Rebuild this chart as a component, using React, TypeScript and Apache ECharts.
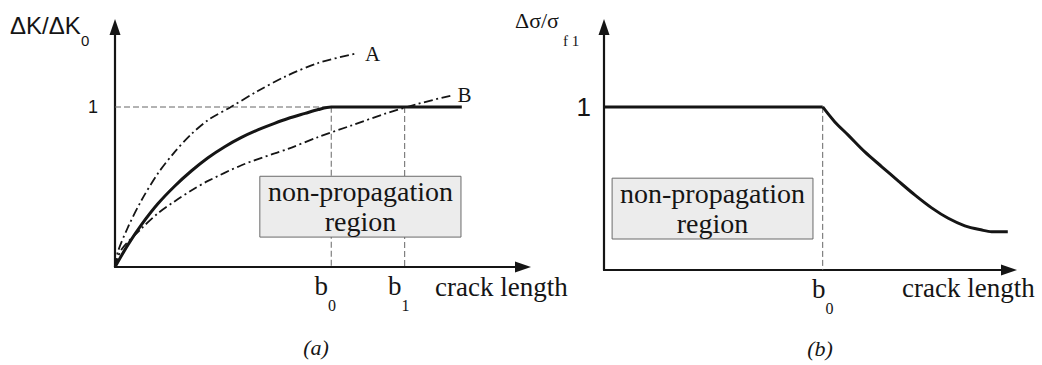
import React, { useEffect, useRef } from 'react';
import * as echarts from 'echarts';

// ---- axis ranges (arbitrary units) ----
const xMax = 100;
const yMaxA = 1.5;
const yMaxB = 1.49;

// ---- tick positions / labels ----
const b0A = 53;
const b1A = 71;
const b0B = 54;
const xTicksA = [b0A, b1A];
const xTickSubsA = ['0', '1'];
const xTicksB = [b0B];
const xTickSubsB = ['0'];
const yTicks = [1];
const yTickLabels = ['1'];

// ---- panel (a): ΔK/ΔK0 vs crack length ----
const solidA: [number, number][] = [
  [0, 0], [3.2, 0.14], [6.5, 0.265], [10.5, 0.395], [14.6, 0.505], [18.7, 0.6],
  [22.8, 0.683], [26.9, 0.752], [31, 0.81], [35, 0.857], [39.1, 0.898], [42.4, 0.928],
  [46.6, 0.96], [49.8, 0.984], [53, 1], [85, 1],
];
const curveA: [number, number][] = [
  [0, 0], [0.7, 0.095], [3.2, 0.25], [6.5, 0.417], [10.5, 0.584], [14.6, 0.718],
  [18.7, 0.83], [22.8, 0.918], [28.4, 1.0], [35, 1.1], [41.7, 1.19], [49.8, 1.275],
  [58.8, 1.333],
];
const curveB: [number, number][] = [
  [0, 0], [1.5, 0.106], [6.5, 0.241], [10.5, 0.335], [14.6, 0.41], [18.7, 0.478],
  [22.8, 0.538], [31, 0.636], [39.1, 0.71], [42.4, 0.738], [49.8, 0.812], [58, 0.885],
  [66.2, 0.958], [74.3, 1.02], [82.5, 1.072],
];
const guideA0: [number, number][] = [[0, 1], [b0A, 1], [b0A, 0]];
const guideA1: [number, number][] = [[b1A, 1], [b1A, 0]];
const regionA: [number, number][] = [[35.5, 0.567], [84.8, 0.187]];

// ---- panel (b): Δσ/σf1 vs crack length ----
const flatSigma: [number, number][] = [[0, 1], [b0B, 1]];
const curveSigma: [number, number][] = [
  [54, 1], [57, 0.908], [60.3, 0.827], [64.4, 0.724], [68.6, 0.633], [72.7, 0.545],
  [76.8, 0.459], [80.9, 0.381], [85, 0.317], [89.1, 0.271], [93.3, 0.245],
  [95.7, 0.235], [99.7, 0.235],
];
const guideB0: [number, number][] = [[b0B, 1], [b0B, 0]];
const regionB: [number, number][] = [[2, 0.563], [51.6, 0.19]];

const regionText = 'non-propagation\nregion';

const SERIF = 'Liberation Serif';
const SANS = 'Liberation Sans';
const INK = '#151515';

function subIndex(ticks: number[], v: number) {
  let best = 0;
  ticks.forEach((t, i) => {
    if (Math.abs(t - v) < Math.abs(ticks[best] - v)) best = i;
  });
  return best;
}

export default function App() {
  const ref = useRef<HTMLDivElement>(null);
  useEffect(() => {
    if (!ref.current) return;
    const chart = echarts.init(ref.current, undefined, { renderer: 'svg' });

    const axisLine = {
      show: true,
      symbol: ['none', 'triangle'],
      symbolSize: [11, 16],
      lineStyle: { color: INK, width: 2.2 },
    };
    const guideStyle = { color: '#666', width: 1, type: [6, 3] as number[] };
    const dashDot = [9, 3.5, 2, 3.5];

    const xAxisCommon = {
      type: 'value' as const,
      min: 0,
      max: xMax,
      axisLine,
      axisTick: { show: false },
      splitLine: { show: false },
    };

    const option: any = {
      animation: false,
      backgroundColor: '#ffffff',
      textStyle: { fontFamily: SERIF },
      grid: [
        { left: 115, top: 27, width: 408, height: 240 },
        { left: 604, top: 27, width: 405, height: 243 },
      ],
      xAxis: [
        {
          ...xAxisCommon,
          gridIndex: 0,
          axisLabel: {
            customValues: xTicksA,
            margin: 5,
            fontFamily: SERIF,
            formatter: (v: number) => `{m|b}{s|${xTickSubsA[subIndex(xTicksA, v)]}}`,
            rich: {
              m: { fontFamily: SERIF, fontSize: 27, color: INK, padding: [0, 0, 13, 0] },
              s: { fontFamily: SERIF, fontSize: 16, color: INK, padding: [25, 12, 0, 0] },
            },
          },
        },
        {
          ...xAxisCommon,
          gridIndex: 1,
          axisLabel: {
            customValues: xTicksB,
            margin: 5,
            fontFamily: SERIF,
            formatter: (v: number) => `{m|b}{s|${xTickSubsB[subIndex(xTicksB, v)]}}`,
            rich: {
              m: { fontFamily: SERIF, fontSize: 27, color: INK, padding: [0, 0, 13, 0] },
              s: { fontFamily: SERIF, fontSize: 16, color: INK, padding: [25, 0, 0, 0] },
            },
          },
        },
      ],
      yAxis: [
        {
          type: 'value',
          gridIndex: 0,
          min: 0,
          max: yMaxA,
          axisLine,
          axisTick: { show: false },
          splitLine: { show: false },
          axisLabel: {
            customValues: yTicks,
            formatter: (v: number) => yTickLabels[subIndex(yTicks, v)],
            margin: 17,
            fontFamily: SANS,
            fontSize: 18,
            color: INK,
          },
        },
        {
          type: 'value',
          gridIndex: 1,
          min: 0,
          max: yMaxB,
          axisLine,
          axisTick: { show: false },
          splitLine: { show: false },
          axisLabel: {
            customValues: yTicks,
            formatter: (v: number) => yTickLabels[subIndex(yTicks, v)],
            margin: 13,
            fontFamily: SANS,
            fontSize: 26,
            color: INK,
          },
        },
      ],
      series: [
        { type: 'line', xAxisIndex: 0, yAxisIndex: 0, data: guideA0, symbol: 'none', lineStyle: guideStyle, z: 2 },
        { type: 'line', xAxisIndex: 0, yAxisIndex: 0, data: guideA1, symbol: 'none', lineStyle: guideStyle, z: 2 },
        {
          type: 'line', xAxisIndex: 0, yAxisIndex: 0, data: [], symbol: 'none',
          markArea: {
            z: 5,
            silent: true,
            itemStyle: { color: '#ececec', borderColor: '#6a6a6a', borderWidth: 1 },
            label: {
              show: true, position: 'inside', formatter: regionText,
              fontFamily: SERIF, fontSize: 28, lineHeight: 30, color: INK,
            },
            data: [[{ coord: regionA[0] }, { coord: regionA[1] }]],
          },
        },
        {
          type: 'line', xAxisIndex: 0, yAxisIndex: 0, data: curveA, symbol: 'none',
          smooth: 0.3,
          lineStyle: { color: INK, width: 1.8, type: dashDot },
          endLabel: { show: true, formatter: 'A', fontFamily: SERIF, fontSize: 21, color: INK, distance: 10 },
          z: 3,
        },
        {
          type: 'line', xAxisIndex: 0, yAxisIndex: 0, data: curveB, symbol: 'none',
          smooth: 0.3,
          lineStyle: { color: INK, width: 1.8, type: dashDot },
          endLabel: { show: true, formatter: 'B', fontFamily: SERIF, fontSize: 21, color: INK, distance: 6 },
          z: 3,
        },
        {
          type: 'line', xAxisIndex: 0, yAxisIndex: 0, data: solidA, symbol: 'none',
          smooth: 0.3,
          lineStyle: { color: INK, width: 3 },
          z: 4,
        },
        { type: 'line', xAxisIndex: 1, yAxisIndex: 1, data: guideB0, symbol: 'none', lineStyle: guideStyle, z: 2 },
        {
          type: 'line', xAxisIndex: 1, yAxisIndex: 1, data: [], symbol: 'none',
          markArea: {
            z: 5,
            silent: true,
            itemStyle: { color: '#ececec', borderColor: '#6a6a6a', borderWidth: 1 },
            label: {
              show: true, position: 'inside', formatter: regionText,
              fontFamily: SERIF, fontSize: 28, lineHeight: 30, color: INK,
            },
            data: [[{ coord: regionB[0] }, { coord: regionB[1] }]],
          },
        },
        {
          type: 'line', xAxisIndex: 1, yAxisIndex: 1, data: flatSigma, symbol: 'none',
          lineStyle: { color: INK, width: 3 }, z: 4,
        },
        {
          type: 'line', xAxisIndex: 1, yAxisIndex: 1, data: curveSigma, symbol: 'none',
          smooth: 0.3,
          lineStyle: { color: INK, width: 3 }, z: 4,
        },
      ],
      graphic: [
        { type: 'text', x: 10, y: 25, style: { text: 'ΔK/ΔK', fontFamily: SANS, fontSize: 24, fill: INK, align: 'left', verticalAlign: 'middle' } },
        { type: 'text', x: 81, y: 40, style: { text: '0', fontFamily: SANS, fontSize: 15, fill: INK, align: 'left', verticalAlign: 'middle' } },
        { type: 'text', x: 515, y: 20, style: { text: 'Δσ/σ', fontFamily: SERIF, fontSize: 22, fill: INK, align: 'left', verticalAlign: 'middle' } },
        { type: 'text', x: 563, y: 41, style: { text: 'f 1', fontFamily: SERIF, fontSize: 15, fill: INK, align: 'left', verticalAlign: 'middle' } },
        { type: 'text', x: 435, y: 287, style: { text: 'crack length', fontFamily: SERIF, fontSize: 27, fill: INK, align: 'left', verticalAlign: 'middle' } },
        { type: 'text', x: 902, y: 288, style: { text: 'crack length', fontFamily: SERIF, fontSize: 27, fill: INK, align: 'left', verticalAlign: 'middle' } },
        { type: 'text', x: 316, y: 347, style: { text: '(a)', fontFamily: SERIF, fontStyle: 'italic', fontSize: 22, fill: INK, align: 'center', verticalAlign: 'middle' } },
        { type: 'text', x: 820, y: 348, style: { text: '(b)', fontFamily: SERIF, fontStyle: 'italic', fontSize: 22, fill: INK, align: 'center', verticalAlign: 'middle' } },
      ],
    };

    chart.setOption(option);
    return () => chart.dispose();
  }, []);

  return (
    <div
      ref={ref}
      style={{ position: 'absolute', left: 0, top: 0, width: 1042, height: 365, background: '#fff' }}
    />
  );
}
